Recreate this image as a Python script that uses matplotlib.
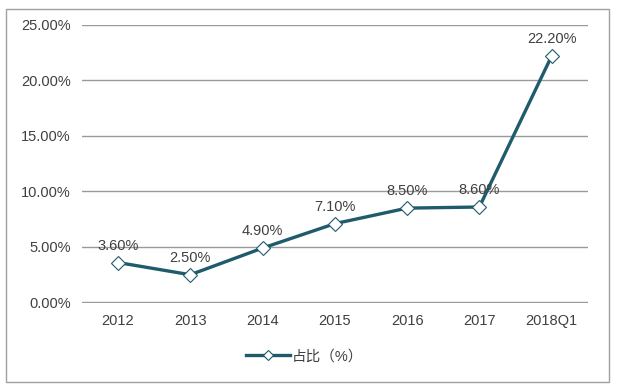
import matplotlib.pyplot as plt
from matplotlib.patches import Rectangle

plt.rcParams['font.family'] = ['Liberation Sans', 'Noto Sans CJK SC', 'DejaVu Sans']

years = ['2012', '2013', '2014', '2015', '2016', '2017', '2018Q1']
share = [3.6, 2.5, 4.9, 7.1, 8.5, 8.6, 22.2]
yticks = [0, 5, 10, 15, 20, 25]

lineColor = '#1f5b6b'
textColor = '#404040'

fig = plt.figure(figsize=(6.2, 3.9), dpi=100)
ax = fig.add_axes([0.132, 0.223, 0.816, 0.713])

x = range(len(years))
ax.plot(x, share, color=lineColor, linewidth=2.4, marker='D', markersize=7,
        markerfacecolor='white', markeredgecolor=lineColor, markeredgewidth=0.8,
        label='占比（%）', zorder=3)
for i, v in enumerate(share):
    ax.annotate('{:.2f}%'.format(v), (i, v), xytext=(0, 7), textcoords='offset points',
                ha='center', va='bottom', fontsize=10.5, color=textColor)

ax.set_xlim(-0.5, len(years) - 0.5)
ax.set_ylim(-0.05, 25)
ax.set_xticks(list(x))
ax.set_xticklabels(years)
ax.set_yticks(yticks)
ax.set_yticklabels(['{:.2f}%'.format(t) for t in yticks])
ax.tick_params(length=0, labelsize=10.5, labelcolor=textColor, pad=8)
ax.grid(axis='y', color='#9a9a9a', linewidth=1)
ax.set_axisbelow(True)
for s in ax.spines.values():
    s.set_visible(False)

leg = ax.legend(loc='upper center', bbox_to_anchor=(0.44, -0.12), frameon=False,
                fontsize=10.5, handlelength=3.0, handletextpad=0.1, markerscale=0.7)
for t in leg.get_texts():
    t.set_color(textColor)

fig.patches.append(Rectangle((0.01, 0.02), 0.972, 0.958, transform=fig.transFigure,
                             fill=False, edgecolor='#a0a0a0', linewidth=1))

fig.savefig('out.png', dpi=100)
